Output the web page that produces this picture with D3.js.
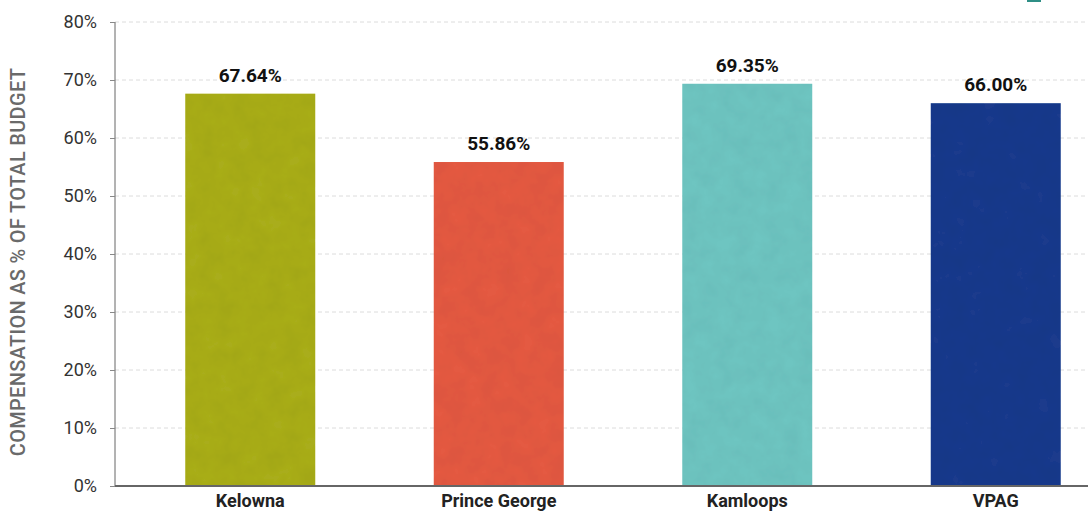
<!DOCTYPE html>
<html lang="en">
<head>
<meta charset="UTF-8">
<title>Compensation as % of total budget</title>
<script src="https://d3js.org/d3.v7.min.js"></script>
<style>
  html, body { margin: 0; background: #fff; }
  #vis { width: 1088px; height: 512px; }
  text { font-family: Roboto, "Noto Sans", sans-serif; }
</style>
</head>
<body>
<div id="vis"></div>
<script>
var regions = ['Kelowna', 'Prince George', 'Kamloops', 'VPAG'];
var shares = [67.64, 55.86, 69.35, 66.00];
var barColours = ['#a9ad1e', '#e45a42', '#6ec5c1', '#1b3b8c'];
var yTicks = [0, 10, 20, 30, 40, 50, 60, 70, 80];

var width = 1088, height = 512;
var axisX = 115, baseY = 486, topY = 22;

var svg = d3.select('#vis').append('svg')
    .attr('width', width)
    .attr('height', height);

// light paper texture for the bars
var defs = svg.append('defs');
var f = defs.append('filter').attr('id', 'wash')
    .attr('x', 0).attr('y', 0).attr('width', 1).attr('height', 1);
f.append('feTurbulence').attr('type', 'fractalNoise')
    .attr('baseFrequency', 0.06).attr('numOctaves', 3).attr('seed', 4).attr('result', 'noise');
f.append('feColorMatrix').attr('in', 'noise').attr('type', 'matrix')
    .attr('values', '0 0 0 0 0  0 0 0 0 0  0 0 0 0 0  0 0 0 0.12 -0.03').attr('result', 'shade');
f.append('feComposite').attr('in', 'shade').attr('in2', 'SourceGraphic').attr('operator', 'in').attr('result', 'shadeIn');
f.append('feMerge').selectAll('feMergeNode')
    .data(['SourceGraphic', 'shadeIn']).enter()
    .append('feMergeNode').attr('in', function(d) { return d; });

var x = d3.scaleBand()
    .domain(regions)
    .range([126, 1120])
    .paddingInner(0.477)
    .paddingOuter(0.2385);

var y = d3.scaleLinear()
    .domain([0, 80])
    .range([baseY, topY]);

// grid
svg.append('g')
    .selectAll('line')
    .data(yTicks.filter(function(d) { return d > 0; }))
    .enter().append('line')
    .attr('x1', axisX).attr('x2', width)
    .attr('y1', function(d) { return y(d); })
    .attr('y2', function(d) { return y(d); })
    .attr('stroke', '#dcdcdc')
    .attr('stroke-dasharray', '4,3')
    .attr('stroke-width', 1);

// bars
svg.append('g')
    .selectAll('rect')
    .data(regions)
    .enter().append('rect')
    .attr('x', function(d) { return x(d); })
    .attr('y', function(d, i) { return y(shares[i]); })
    .attr('width', x.bandwidth())
    .attr('height', function(d, i) { return baseY - y(shares[i]); })
    .attr('fill', function(d, i) { return barColours[i]; })
    .attr('filter', 'url(#wash)');

// value labels
svg.append('g')
    .selectAll('text')
    .data(regions)
    .enter().append('text')
    .attr('x', function(d) { return x(d) + x.bandwidth() / 2; })
    .attr('y', function(d, i) { return y(shares[i]) - 12; })
    .attr('text-anchor', 'middle')
    .attr('font-size', 19)
    .attr('font-weight', 'bold')
    .attr('fill', '#111')
    .text(function(d, i) { return shares[i].toFixed(2) + '%'; });

// y axis
var yAxis = d3.axisLeft(y)
    .tickValues(yTicks)
    .tickSize(5)
    .tickPadding(13)
    .tickFormat(function(d) { return d + '%'; });

var gy = svg.append('g')
    .attr('transform', 'translate(' + axisX + ',0)')
    .call(yAxis);
gy.select('.domain').attr('stroke', '#666').attr('d', 'M0,' + topY + 'V' + baseY);
gy.selectAll('.tick line').attr('stroke', '#888');
gy.selectAll('.tick text')
    .attr('font-size', 18)
    .attr('fill', '#333')
    .style('font-family', 'Roboto, sans-serif');

// x axis
var xAxis = d3.axisBottom(x).tickSize(0).tickPadding(8);
var gx = svg.append('g')
    .attr('transform', 'translate(0,' + baseY + ')')
    .call(xAxis);
gx.select('.domain').attr('stroke', '#666').attr('stroke-width', 2)
    .attr('d', 'M' + axisX + ',0H' + width);
gx.selectAll('.tick text')
    .attr('font-size', 18)
    .attr('font-weight', 'bold')
    .attr('fill', '#222')
    .style('font-family', 'Roboto, sans-serif');

// axis title
svg.append('text')
    .attr('transform', 'translate(25,' + ((topY + baseY) / 2 + 8) + ') rotate(-90)')
    .attr('text-anchor', 'middle')
    .attr('font-size', 20)
    .attr('font-weight', 500)
    .attr('fill', '#6a6a6a')
    .attr('letter-spacing', 0.3)
    .text('COMPENSATION AS % OF TOTAL BUDGET');

// legend swatch peeking in at the top edge
svg.append('rect').attr('x', 1027).attr('y', -6).attr('width', 14).attr('height', 8).attr('fill', '#2f8f86');
</script>
</body>
</html>
